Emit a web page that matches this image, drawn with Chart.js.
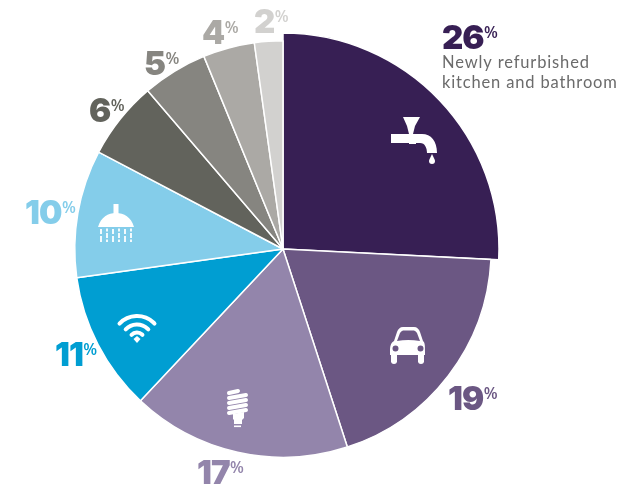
<!DOCTYPE html>
<html><head><meta charset="utf-8">
<style>html,body{margin:0;padding:0;background:#fff;overflow:hidden}canvas{display:block}</style>
<script src="https://cdn.jsdelivr.net/npm/chart.js@4"></script>
</head><body><canvas id="c" width="640" height="485"></canvas>
<script>
const categories = ["Newly refurbished kitchen and bathroom","Car","Energy efficient lighting","Wifi","Shower","Other 6","Other 5","Other 4","Other 2"];
const labelValues = [26,19,17,11,10,6,5,4,2];
const sliceShares = [25.8,19.2,17,10.8,9.9,6.05,5.05,4,2.2];
const colors = ["#371f54","#6b5783","#9385ab","#009ed2","#84cdea","#62635c","#868580","#aba9a5","#d2d1cf"];
const captionLines = ["Newly refurbished","kitchen and bathroom"];
// label offsets from the pie centre: left edge and baseline of the big number
const labelOffsets = [[159,-200],[165,161],[-86,235],[-228,117],[-258,-25],[-194,-127],[-139,-174],[-81,-205],[-29,-216]];
const iconOffsets = {0:[129,-111],1:[125,97],2:[-45,157],3:[-146,78],4:[-167,-27]};
const PIE_OUTER_FIRST = 216;

const ICONS = {
  0(c){ // tap
    c.beginPath();c.moveTo(-9,-21);c.lineTo(8,-21);c.lineTo(3,-12);c.lineTo(1,-4);c.lineTo(-3,-4);c.lineTo(-5,-12);c.closePath();c.fill();
    c.beginPath();c.moveTo(-21,-4);c.lineTo(10,-4);c.bezierCurveTo(19,-4,25,3,25,15);c.lineTo(15,15);c.bezierCurveTo(15,10,13,5,8,5);c.lineTo(4,5);c.lineTo(4,6);c.lineTo(-3,6);c.lineTo(-3,5);c.lineTo(-21,5);c.closePath();c.fill();
    c.beginPath();c.moveTo(20,16);c.bezierCurveTo(22,20,23,22,23,23);c.arc(20,23,3,0,Math.PI);c.bezierCurveTo(17,22,18,20,20,16);c.closePath();c.fill();
  },
  1(c){ // car
    c.beginPath();c.moveTo(-18,6);c.bezierCurveTo(-18,-1,-17,-3,-14,-5);c.lineTo(-11,-14);c.bezierCurveTo(-10,-17,-8,-19,-5,-19);c.lineTo(6,-19);c.bezierCurveTo(9,-19,11,-17,12,-14);c.lineTo(15,-5);c.bezierCurveTo(17,-3,17,-1,17,6);c.lineTo(17,9);c.lineTo(-18,9);c.closePath();c.fill();
    c.fillRect(-17,8,6,8);c.fillRect(10,8,6,8);
    c.beginPath();c.arc(-14,15,3,0,Math.PI);c.arc(13,15,3,0,Math.PI);c.fill();
    c.save();c.fillStyle=colors[1];
    c.beginPath();c.moveTo(-11,-5);c.lineTo(-8,-13);c.quadraticCurveTo(-7,-15,-5,-15.5);c.lineTo(6,-15.5);c.quadraticCurveTo(8,-15,9,-13);c.lineTo(12,-5);c.quadraticCurveTo(0,-7,-11,-5);c.closePath();c.fill();
    c.beginPath();c.arc(-12.5,2.5,3,0,7);c.arc(12.5,2.5,3,0,7);c.fill();
    c.restore();
  },
  2(c){ // bulb
    c.lineCap="round";c.lineWidth=4;c.strokeStyle="#fff";
    [[-9,-13,0,-15],[-9,-8,8,-11],[-9,-3,8,-6],[-9,2,8,-1],[-9,7,8,4]].forEach(s=>{c.beginPath();c.moveTo(s[0],s[1]);c.lineTo(s[2],s[3]);c.stroke();});
    c.beginPath();c.moveTo(-5,8);c.lineTo(6,6);c.lineTo(6,12);c.lineTo(4,14);c.lineTo(4,18);c.lineTo(-4,18);c.lineTo(-4,14);c.lineTo(-5,13);c.closePath();c.fill();
    c.fillRect(-4,19.5,7,1.6);
  },
  3(c){ // wifi
    c.strokeStyle="#fff";c.lineCap="round";c.lineWidth=4;
    [24,15.5,7.5].forEach(r=>{c.beginPath();c.arc(0,13,r,-Math.PI*0.76,-Math.PI*0.24);c.stroke();});
    c.beginPath();c.moveTo(-3.5,12);c.lineTo(0,9);c.lineTo(3.5,12);c.lineTo(0,16);c.closePath();c.fill();
  },
  4(c){ // shower
    c.fillRect(-2.5,-18,5,10);
    c.beginPath();c.moveTo(-18,5);c.bezierCurveTo(-15,-5,-8,-9,0,-9);c.bezierCurveTo(8,-9,15,-5,18,5);c.closePath();c.fill();
    [-15,-9,-3,3,9,15].forEach((x,i)=>{
      if(i%2===0){c.fillRect(x-.9,7,1.8,5);c.fillRect(x-.9,14,1.8,6);}
      else{c.fillRect(x-.9,6.5,1.8,3);c.fillRect(x-.9,11,1.8,5);c.fillRect(x-.9,17.5,1.8,2.5);}
    });
  }
};

const overlay = {
  id:"overlay",
  afterDatasetsUpdate(chart){
    chart.getDatasetMeta(0).data[0].outerRadius = PIE_OUTER_FIRST;
  },
  afterDatasetsDraw(chart){
    const c = chart.ctx, arcs = chart.getDatasetMeta(0).data;
    const cx = arcs[0].x, cy = arcs[0].y;
    c.save();
    c.fillStyle="#fff";
    Object.keys(iconOffsets).forEach(k=>{
      c.save();c.translate(cx+iconOffsets[k][0],cy+iconOffsets[k][1]);ICONS[k](c);c.restore();
    });
    c.textBaseline="alphabetic";c.textAlign="left";
    labelValues.forEach((v,i)=>{
      const x=cx+labelOffsets[i][0], y=cy+labelOffsets[i][1];
      c.fillStyle=colors[i];
      c.font='900 33px Inter';c.letterSpacing="-1px";
      const t=String(v);c.fillText(t,x,y);
      const w=c.measureText(t).width;
      c.font='600 16px "Open Sans"';c.letterSpacing="0px";
      c.fillText("%",x+w+0.5,y-11);
    });
    c.fillStyle="#6b6b6b";c.font='400 16.5px Lato';c.letterSpacing="0.85px";
    captionLines.forEach((l,i)=>c.fillText(l,442,68+i*20));
    c.restore();
  }
};

new Chart(document.getElementById("c"),{
  type:"pie",
  data:{labels:categories,datasets:[{data:sliceShares,backgroundColor:colors,borderColor:"#fff",borderWidth:1.5}]},
  options:{
    responsive:false,animation:false,
    layout:{padding:{left:74,top:40,right:148,bottom:27}},
    plugins:{legend:{display:false},tooltip:{enabled:false}}
  },
  plugins:[overlay]
});
</script></body></html>
